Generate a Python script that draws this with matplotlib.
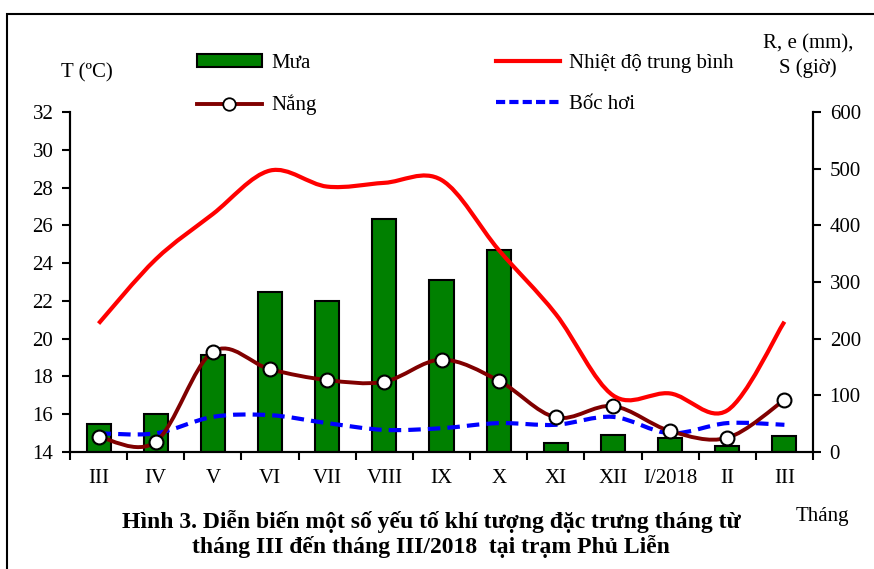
import matplotlib
matplotlib.use('Agg')
import matplotlib.pyplot as plt
import numpy as np
from matplotlib.path import Path
from matplotlib.patches import PathPatch, Rectangle, Patch
from matplotlib.lines import Line2D

plt.rcParams['font.family'] = ['Liberation Serif', 'DejaVu Serif']

months = ['III', 'IV', 'V', 'VI', 'VII', 'VIII', 'IX', 'X', 'XI', 'XII', 'I/2018', 'II', 'III']
rain = [49, 67, 172, 283, 266, 412, 303, 356, 16, 30, 24, 11, 28]          # Mưa (mm)
temp = [20.8, 24.2, 26.6, 28.9, 28.05, 28.25, 28.4, 24.7, 21.3, 17.0, 17.1, 16.2, 20.9]  # Nhiệt độ TB
sun = [27, 18, 177, 146, 127, 124, 163, 126, 61, 81, 37, 25, 92]            # Nắng (giờ)
evap = [33, 33, 62, 65, 51, 39, 42, 51, 48, 62, 33, 51, 48]                # Bốc hơi (mm)


def smooth(xs, ys):
    # excel-like smoothed line, catmull-rom as cubic bezier
    n = len(xs)
    verts = [(xs[0], ys[0])]
    codes = [Path.MOVETO]
    for i in range(n - 1):
        a = i - 1 if i > 0 else i
        d = i + 2 if i + 2 < n else i + 1
        c1 = (xs[i] + (xs[i + 1] - xs[a]) / 6, ys[i] + (ys[i + 1] - ys[a]) / 6)
        c2 = (xs[i + 1] - (xs[d] - xs[i]) / 6, ys[i + 1] - (ys[d] - ys[i]) / 6)
        verts += [c1, c2, (xs[i + 1], ys[i + 1])]
        codes += [Path.CURVE4] * 3
    return Path(verts, codes)


x = np.arange(len(months))

fig = plt.figure(figsize=(8.74, 5.69), dpi=100)
ax = fig.add_axes([70 / 874, 1 - 452 / 569, 743 / 874, 340 / 569])
ax2 = ax.twinx()

red = '#ff0000'
maroon = '#800000'
blue = '#0000ff'
green = '#008000'

ax2.bar(x, rain, width=0.42, color=green, edgecolor='black', linewidth=1.5, zorder=1)
ax2.add_patch(PathPatch(smooth(x, evap), fill=False, edgecolor=blue, lw=3,
                        linestyle=(0, (3.0, 1.7)), zorder=2))
ax2.add_patch(PathPatch(smooth(x, sun), fill=False, edgecolor=maroon, lw=2.8, zorder=3))
ax2.plot(x, sun, 'o', ms=10, mfc='white', mec='black', mew=1.5, zorder=4)

ax.set_zorder(ax2.get_zorder() + 1)
ax.patch.set_visible(False)
ax.add_patch(PathPatch(smooth(x, temp), fill=False, edgecolor=red, lw=3, zorder=3))

ax.set_xlim(-0.5, len(months) - 0.5)
ax.set_ylim(14, 32)
ax.set_yticks(np.arange(14, 33, 2))
ax2.set_ylim(0, 600)
ax2.set_yticks(np.arange(0, 601, 100))

ax.set_xticks(x)
ax.set_xticklabels(months)
ax.set_xticks(np.arange(-0.5, len(months)), minor=True)
ax.tick_params(axis='x', which='major', length=0, pad=12, labelsize=15)
ax.tick_params(axis='x', which='minor', length=6, width=1.5, direction='out')
ax.tick_params(axis='y', length=6, width=1.5, labelsize=15, pad=6)
ax2.tick_params(axis='y', length=6, width=1.5, labelsize=15, pad=6)

for a in (ax, ax2):
    a.spines['top'].set_visible(False)
    for s in ('left', 'right', 'bottom'):
        a.spines[s].set_linewidth(1.5)

handles = [Patch(facecolor=green, edgecolor='black', linewidth=1.5),
           Line2D([], [], color=maroon, lw=2.8, marker='o', ms=9, mfc='white', mec='black', mew=1.3),
           Line2D([], [], color=red, lw=3),
           Line2D([], [], color=blue, lw=3, linestyle=(0, (2.2, 1.0)))]
labels = ['Mưa', 'Nắng', 'Nhiệt độ trung bình', 'Bốc hơi']
fig.legend(handles, labels, ncol=2, loc='upper left', bbox_to_anchor=(197 / 874, 1 - 54 / 569),
           frameon=False, fontsize=15, handlelength=3.1, handleheight=0.55, handletextpad=0.45,
           columnspacing=8.6, labelspacing=1.05, borderpad=0, borderaxespad=0)

fig.text(87 / 874, 1 - 73 / 569, 'T (ºC)', ha='center', va='center', fontsize=15)
fig.text(808 / 874, 1 - 56 / 569, 'R, e (mm),\nS (giờ)', ha='center', va='center', fontsize=15,
         linespacing=1.3)
fig.text(822 / 874, 1 - 517 / 569, 'Tháng', ha='center', va='center', fontsize=15)
fig.text(431 / 874, 1 - 534 / 569,
         'Hình 3. Diễn biến một số yếu tố khí tượng đặc trưng tháng từ\n'
         'tháng III đến tháng III/2018  tại trạm Phủ Liễn',
         ha='center', va='center', fontsize=17, fontweight='bold', linespacing=1.15)

fig.patches.append(Rectangle((7 / 874, -0.1), 1.2, 1.1 - 14 / 569, transform=fig.transFigure,
                             fill=False, edgecolor='black', lw=1.5))

fig.savefig('out.png', dpi=100)
